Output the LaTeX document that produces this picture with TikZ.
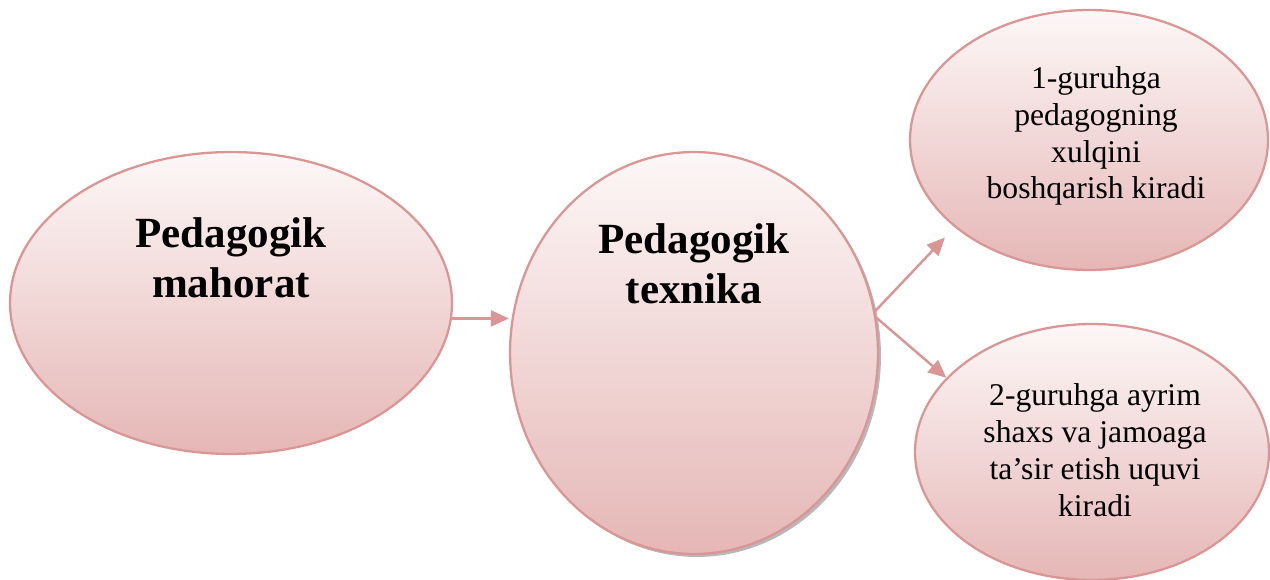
\documentclass[tikz,border=0pt]{standalone}
\usepackage{fontspec}
\setmainfont{Liberation Serif}
\usepackage{tikz}
\usetikzlibrary{shapes.geometric, arrows.meta, shadows, positioning}
\definecolor{rimpink}{RGB}{217,150,148}
\definecolor{toppink}{RGB}{253,247,247}
\definecolor{botpink}{RGB}{229,183,182}
\tikzstyle{bubble} = [
	ellipse, 
	inner sep=0pt, 
	draw=rimpink, 
	line width=1.3pt, 
	top color=toppink, 
	bottom color=botpink]
\tikzstyle{bigtxt} = [
	align=center, 
	text centered, 
	font=\fontsize{24.5}{28.5}\selectfont\bfseries]
\tikzstyle{smalltxt} = [
	align=center, 
	text centered, 
	font=\fontsize{18}{21}\selectfont]
\tikzstyle{arrow} = [-{Triangle[length=0.36cm, width=0.32cm]}, line width=1.4pt, draw=rimpink, fill=rimpink]

\begin{document}
\begin{tikzpicture}[x=0.02cm, y=-0.02cm]
\useasboundingbox (0,0) rectangle (1270,580);
\clip (0,0) rectangle (1270,580);

% --- Nodes ---
\node (mahorat) [bubble, minimum width=8.84cm, minimum height=6.04cm] at (231,303) {};
\node (mahoratTxt) [bigtxt] at (231,258) {Pedagogik\\mahorat};

\node (texnika) [bubble, minimum width=7.36cm, minimum height=8.04cm,
	drop shadow={shadow xshift=0.06cm, shadow yshift=-0.06cm, fill=gray!70, opacity=0.8}] at (694,353) {};
\node (texnikaTxt) [bigtxt] at (694,264) {Pedagogik\\texnika};

\node (grp1) [bubble, minimum width=7.16cm, minimum height=5.2cm] at (1089,140) {};
\node (grp1Txt) [smalltxt] at (1096,136) {1-guruhga\\pedagogning\\xulqini\\boshqarish kiradi};

\node (grp2) [bubble, minimum width=7.08cm, minimum height=5.12cm] at (1092,452) {};
\node (grp2Txt) [smalltxt] at (1095,450) {2-guruhga ayrim\\shaxs va jamoaga\\ta’sir etish uquvi\\kiradi};

% --- Arrows ---
\draw [arrow] (mahorat.-4) -- (mahorat.-4 -| texnika.west);
\draw [arrow, shorten >=8pt] (texnika.13) -- (grp1.213);
\draw [arrow] (texnika.11) -- (grp2.153);

\end{tikzpicture}
\end{document}
